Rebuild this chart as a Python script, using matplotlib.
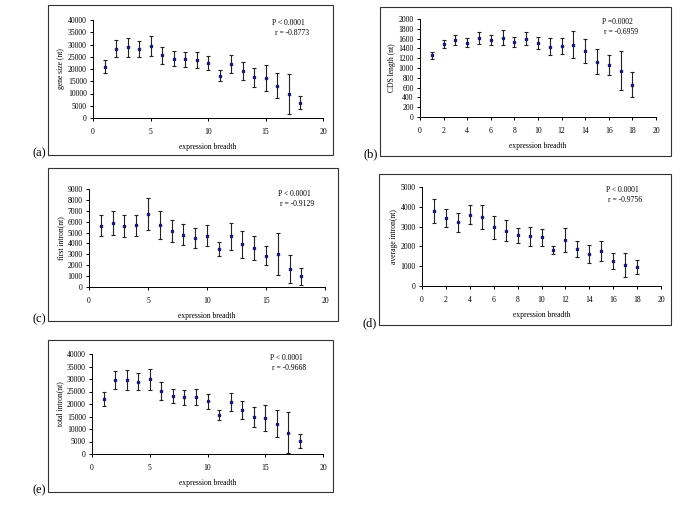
import numpy as np
import matplotlib
matplotlib.use("Agg")
import matplotlib.pyplot as plt
from matplotlib.patches import Rectangle

plt.rcParams['font.family'] = ['Liberation Serif', 'DejaVu Serif']

breadth = np.arange(1, 19)

gene_size = [21000, 28300, 28900, 28200, 29400, 25600, 24200, 24000, 23600, 22300,
             17200, 21900, 19300, 16600, 16200, 13200, 9900, 6300]
gene_size_err = [2500, 3400, 3900, 3300, 4200, 3500, 3100, 3000, 3300, 2900,
                 2300, 3700, 3700, 3900, 5300, 5100, 8200, 2800]

cds_len = [1258, 1489, 1571, 1516, 1618, 1571, 1618, 1523, 1598, 1510,
           1435, 1448, 1476, 1353, 1129, 1061, 945, 660]
cds_len_err = [75, 85, 105, 90, 120, 110, 150, 100, 130, 120,
               170, 160, 275, 245, 260, 200, 400, 255]

first_intron = [5640, 5890, 5580, 5670, 6680, 5700, 5120, 4820, 4480, 4700,
                3510, 4670, 3930, 3540, 2870, 3020, 1650, 980]
first_intron_err = [930, 1130, 1000, 950, 1470, 1310, 1000, 1000, 900, 960,
                    630, 1250, 1230, 1100, 880, 1950, 1250, 800]

avg_intron = [3790, 3430, 3220, 3600, 3480, 2970, 2800, 2560, 2510, 2460,
              1810, 2340, 1880, 1620, 1770, 1280, 1060, 960]
avg_intron_err = [610, 460, 480, 490, 610, 590, 530, 390, 480, 430,
                  210, 600, 410, 440, 490, 400, 590, 370]

total_intron = [22000, 29700, 29500, 28900, 29900, 25400, 23200, 22800, 22700, 21100,
                15600, 20800, 17500, 14800, 14400, 12200, 8600, 5200]
total_intron_err = [2800, 3700, 4000, 3350, 4150, 3600, 2950, 3000, 3150, 3000,
                    2000, 3600, 3600, 4000, 5200, 5500, 8200, 2900]

W, H = 685, 505
fig = plt.figure(figsize=(W / 100, H / 100), dpi=100)
fig.patch.set_facecolor('white')


def px_axes(x0, y0, x1, y1):
    return fig.add_axes([x0 / W, 1 - y1 / H, (x1 - x0) / W, (y1 - y0) / H])


def frame(x0, y0, x1, y1, tag):
    fig.patches.append(Rectangle((x0 / W, 1 - y1 / H), (x1 - x0) / W, (y1 - y0) / H,
                                 transform=fig.transFigure, fill=False,
                                 edgecolor='#333333', linewidth=0.8))
    fig.text((x0 - 2) / W, 1 - (y1 - 2) / H, tag, ha='right', va='center', fontsize=9)


def panel(box, vals, errs, ymax, ystep, xstep, ylabel, ptxt, rtxt, txy):
    ax = px_axes(*box)
    ax.errorbar(breadth, vals, yerr=errs, fmt='s', ms=2, color='#1a1a70',
                ecolor='#222222', elinewidth=0.8, capsize=1.6, capthick=0.8)
    ax.set_xlim(0, 20)
    ax.set_ylim(0, ymax)
    ax.set_xticks(np.arange(0, 21, xstep))
    ax.set_yticks(np.arange(0, ymax + 1, ystep))
    for s in ['top', 'right']:
        ax.spines[s].set_visible(False)
    for s in ['left', 'bottom']:
        ax.spines[s].set_linewidth(0.7)
    ax.tick_params(direction='out', length=2.5, width=0.7, labelsize=5.5, pad=2)
    ax.tick_params(axis='x', pad=5)
    ax.set_xlabel('expression breadth', fontsize=5.5, labelpad=5)
    ax.set_ylabel(ylabel, fontsize=5.5, labelpad=2)
    ax.text(txy[0], txy[1], ptxt, transform=ax.transAxes, fontsize=5.5, va='center')
    ax.text(txy[0] + 0.01, txy[1] - 0.1, rtxt, transform=ax.transAxes, fontsize=5.5, va='center')
    ax.set_facecolor('none')
    return ax


frame(48, 5, 333, 155, '(a)')
panel((93, 20, 323, 118), gene_size, gene_size_err, 40000, 5000, 5,
      'gene size (nt)', 'P < 0.0001', 'r = -0.8773', (0.78, 0.97))

frame(380, 7, 671, 156, '(b)')
panel((420, 19, 656, 117), cds_len, cds_len_err, 2000, 200, 2,
      'CDS length (nt)', 'P =0.0002', 'r = -0.6959', (0.77, 0.97))

frame(48, 168, 338, 321, '(c)')
panel((89, 189, 325, 287), first_intron, first_intron_err, 9000, 1000, 5,
      'first intron(nt)', 'P < 0.0001', 'r = -0.9129', (0.80, 0.95))

frame(379, 174, 671, 325, '(d)')
panel((422, 187, 661, 286), avg_intron, avg_intron_err, 5000, 1000, 2,
      'average intron(nt)', 'P < 0.0001', 'r = -0.9756', (0.77, 0.97))

frame(48, 340, 333, 492, '(e)')
panel((92, 354, 323, 454), total_intron, total_intron_err, 40000, 5000, 5,
      'total intron(nt)', 'P < 0.0001', 'r = -0.9668', (0.77, 0.96))

fig.savefig('out.png', dpi=100)
